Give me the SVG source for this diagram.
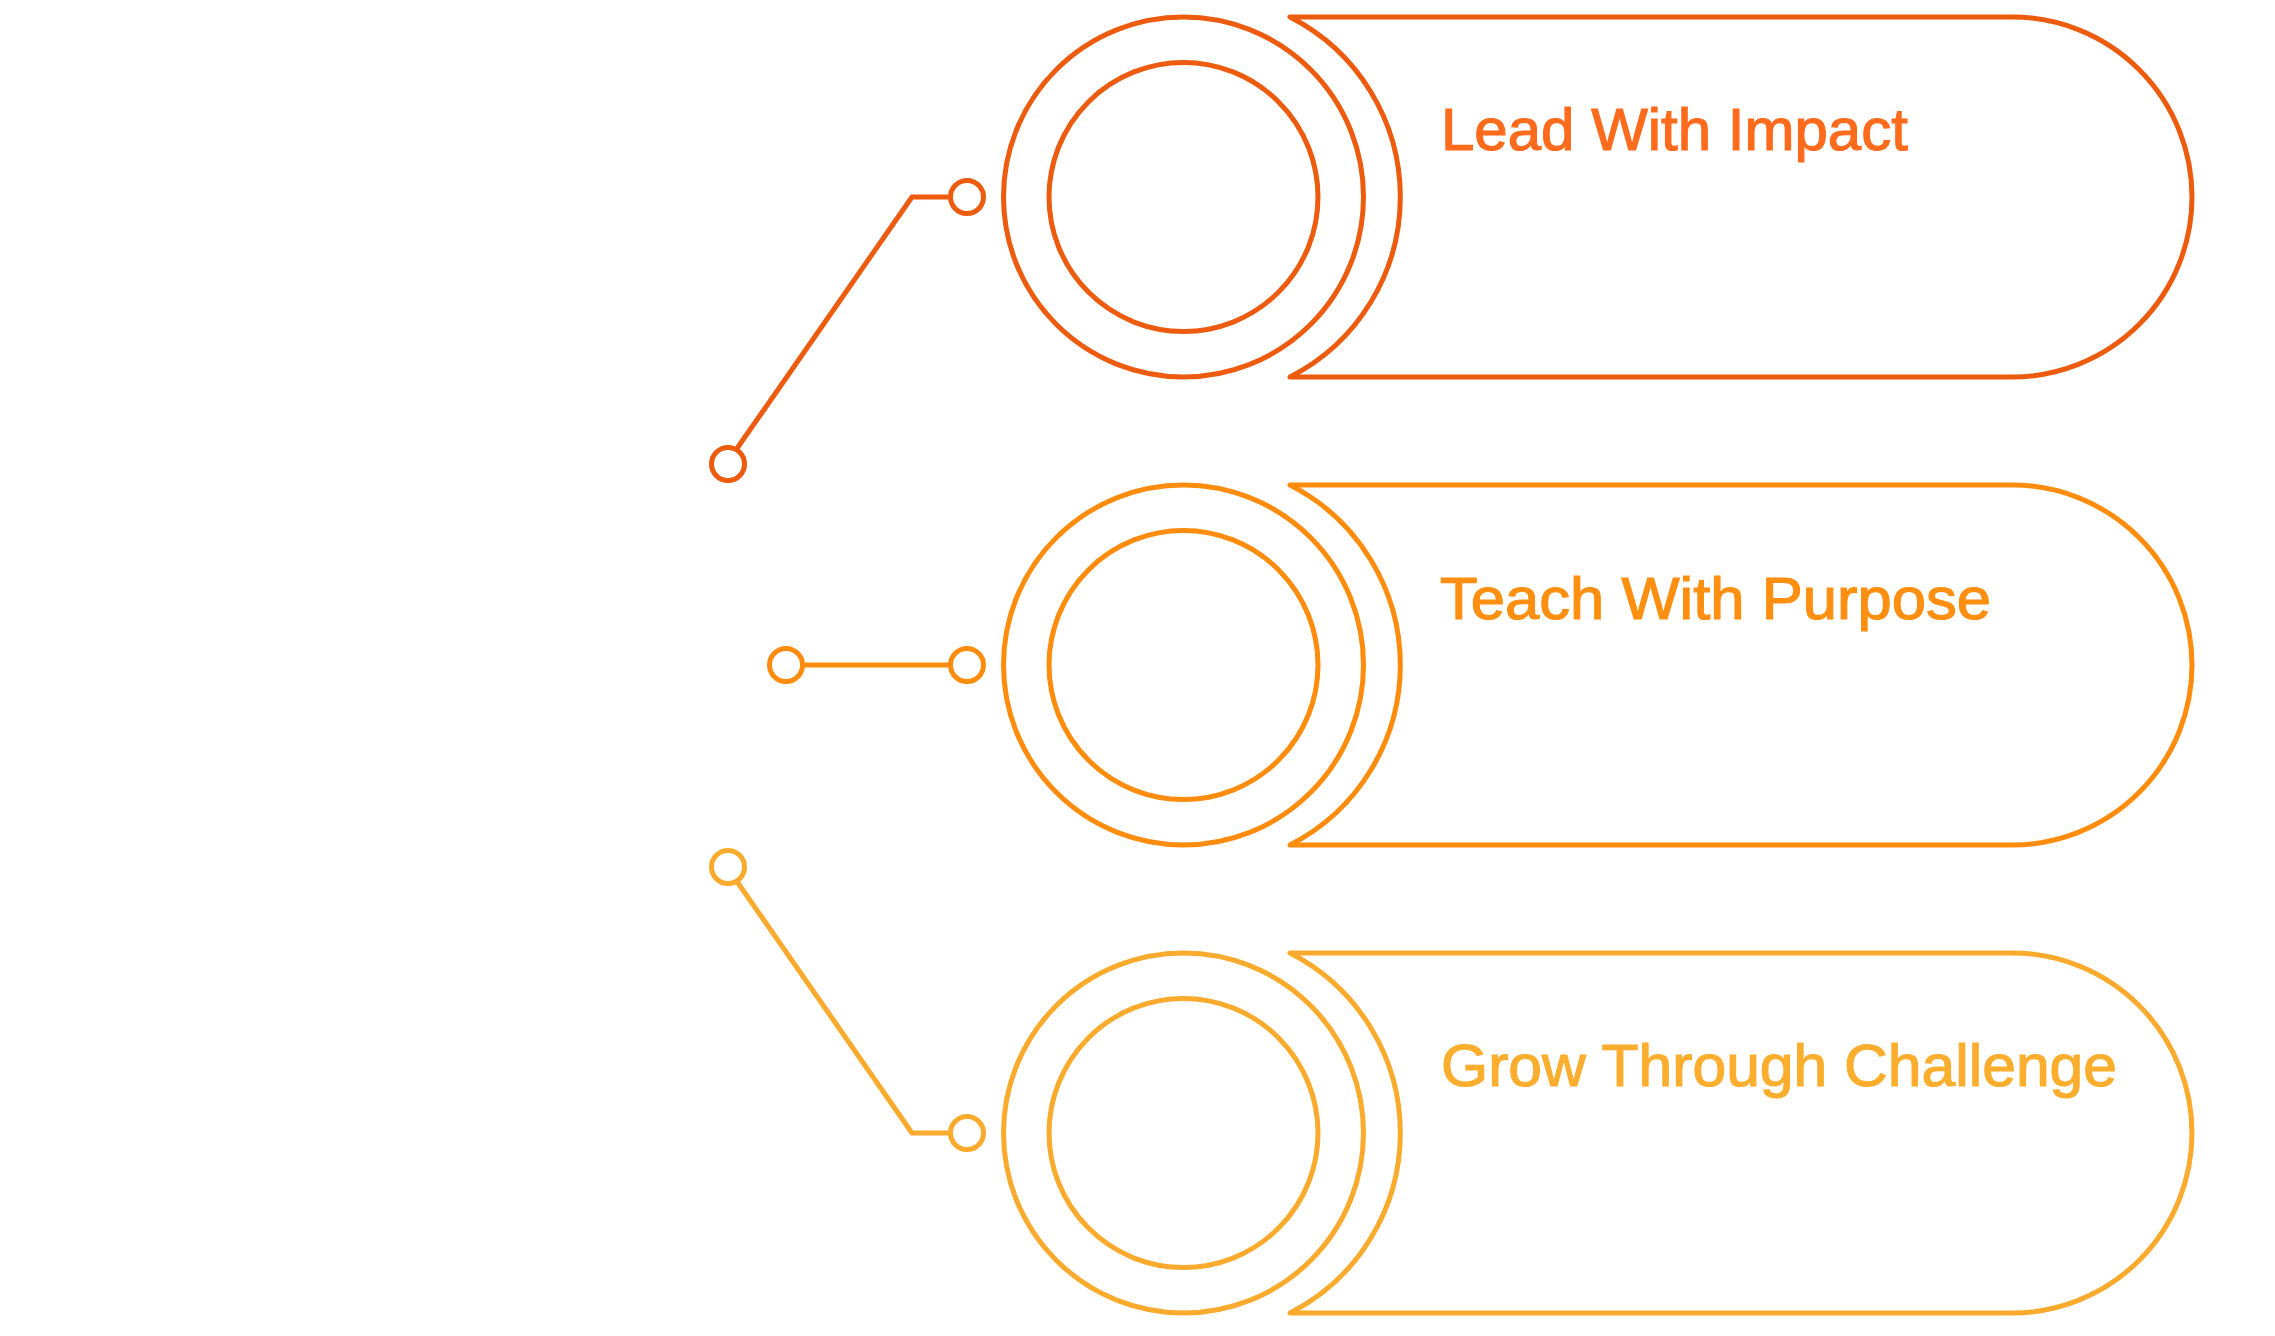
<svg xmlns="http://www.w3.org/2000/svg" width="2275" height="1336" viewBox="0 0 2275 1336">
  <style>
    .s { fill: none; stroke-width: 5; stroke-linejoin: round; stroke-linecap: round; }
    .c1 { stroke: #EC5B0E; }
    .c2 { stroke: #FF8C0C; }
    .c3 { stroke: #FAAA2C; }
    .dot { fill: #FFFFFF; stroke-width: 5; }
    .lbl { font-family: "Liberation Sans", Arial, sans-serif; font-size: 60px; stroke-width: 1.2; }
  </style>
  <rect x="0" y="0" width="2275" height="1336" fill="#FFFFFF"/>

  <g id="connectors">
    <polyline class="s c1" points="738,447 912,197 948,197"/>
    <circle class="dot c1" cx="728" cy="464" r="16.5"/>
    <circle class="dot c1" cx="967" cy="197" r="16.5"/>

    <polyline class="s c2" points="805,665 948,665"/>
    <circle class="dot c2" cx="786" cy="665" r="16.5"/>
    <circle class="dot c2" cx="967" cy="665" r="16.5"/>

    <polyline class="s c3" points="738,883 912,1133 948,1133"/>
    <circle class="dot c3" cx="728" cy="867" r="16.5"/>
    <circle class="dot c3" cx="967" cy="1133" r="16.5"/>
  </g>

  <g id="node-lead">
    <circle class="s c1" cx="1183.5" cy="197" r="180"/>
    <circle class="s c1" cx="1183.5" cy="197" r="134.5"/>
    <path class="s c1" d="M 1290 17 L 2012 17 A 180 180 0 0 1 2012 377 L 1290 377 A 202 202 0 0 0 1290 17 Z"/>
    <text class="lbl" x="1441" y="150" fill="#FF6B1C" stroke="#FF6B1C">Lead With Impact</text>
  </g>

  <g id="node-teach">
    <circle class="s c2" cx="1183.5" cy="665" r="180"/>
    <circle class="s c2" cx="1183.5" cy="665" r="134.5"/>
    <path class="s c2" d="M 1290 485 L 2012 485 A 180 180 0 0 1 2012 845 L 1290 845 A 202 202 0 0 0 1290 485 Z"/>
    <text class="lbl" x="1440" y="619" fill="#FF8F10" stroke="#FF8F10" textLength="551" lengthAdjust="spacingAndGlyphs">Teach With Purpose</text>
  </g>

  <g id="node-grow">
    <circle class="s c3" cx="1183.5" cy="1133" r="180"/>
    <circle class="s c3" cx="1183.5" cy="1133" r="134.5"/>
    <path class="s c3" d="M 1290 953 L 2012 953 A 180 180 0 0 1 2012 1313 L 1290 1313 A 202 202 0 0 0 1290 953 Z"/>
    <text class="lbl" x="1441" y="1086" fill="#FBAE2E" stroke="#FBAE2E" textLength="676" lengthAdjust="spacingAndGlyphs">Grow Through Challenge</text>
  </g>
</svg>
